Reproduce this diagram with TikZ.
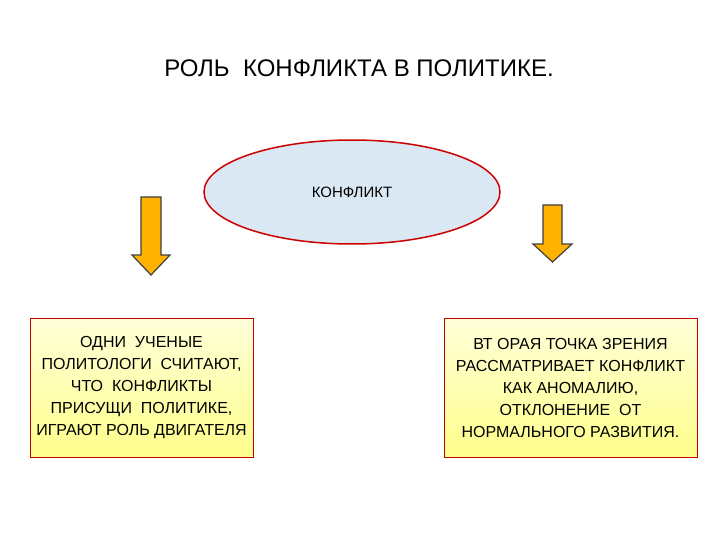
\documentclass[tikz,border=0pt]{standalone}
\usepackage{fontspec}
\setmainfont{Liberation Sans}
\usetikzlibrary{shapes.geometric}
\definecolor{cloudblue}{RGB}{218,232,243}
\tikzset{
  infobox/.style={draw=red!75!black, line width=1pt, top color=yellow!15, bottom color=yellow!45,
    minimum width=223pt, minimum height=139pt, align=center, font=\fontsize{16}{22}\selectfont},
  downarrow/.style={fill=orange!60!yellow, draw=gray!50!black, line width=1.2pt, line join=miter}
}
\begin{document}
\begin{tikzpicture}[x=1pt,y=-1pt]
    \useasboundingbox (0,0) rectangle (720,540);
    \fill[white] (0,0) rectangle (720,540);

    \node (title) at (359,68) {\fontsize{24}{26}\selectfont РОЛЬ\ \ КОНФЛИКТА В ПОЛИТИКЕ.};

    \node[ellipse, draw=red!80!black, line width=1.5pt, fill=cloudblue,
      minimum width=296pt, minimum height=104pt, font=\fontsize{15}{18}\selectfont] (conf) at (352,192) {КОНФЛИКТ};

    % left arrow
    \draw[downarrow] (141,197) -- (161,197) -- (161,255) -- (170,255) -- (151,275)
      -- (132,255) -- (141,255) -- cycle;
    % right arrow
    \draw[downarrow] (543,205) -- (562,205) -- (562,244) -- (572,244) -- (552.5,262)
      -- (533,244) -- (543,244) -- cycle;

    \node[infobox] (left) at (141.5,387.5) {ОДНИ\ \ УЧЕНЫЕ\\ ПОЛИТОЛОГИ\ \ СЧИТАЮТ,\\ ЧТО\ \ КОНФЛИКТЫ\\ ПРИСУЩИ\ \ ПОЛИТИКЕ,\\ ИГРАЮТ РОЛЬ ДВИГАТЕЛЯ};
    \node[infobox, minimum width=253pt] (right) at (570.5,387.5) {ВТ ОРАЯ ТОЧКА ЗРЕНИЯ\\ РАССМАТРИВАЕТ КОНФЛИКТ\\ КАК АНОМАЛИЮ,\\ ОТКЛОНЕНИЕ\ \ ОТ\\ НОРМАЛЬНОГО РАЗВИТИЯ.};
\end{tikzpicture}
\end{document}
